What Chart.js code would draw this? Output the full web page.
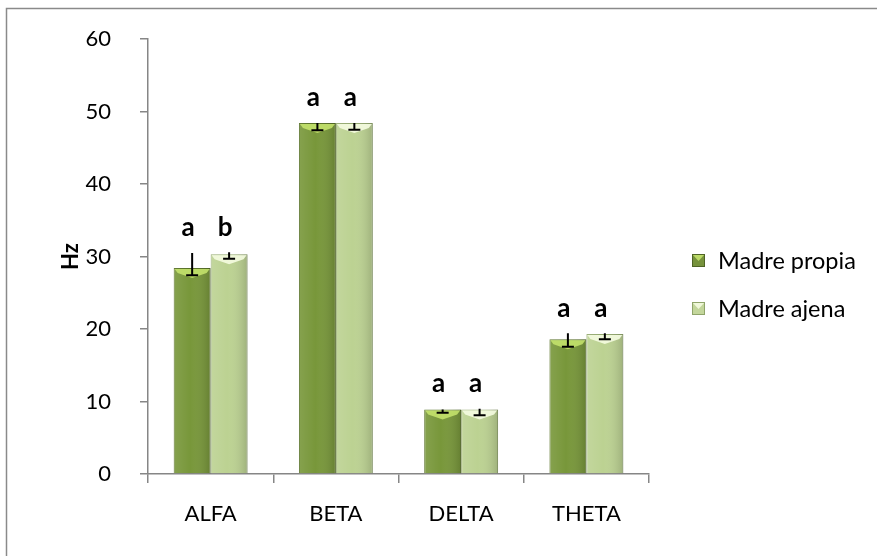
<!DOCTYPE html>
<html><head><meta charset="utf-8">
<script src="https://cdn.jsdelivr.net/npm/chart.js@4.4.1/dist/chart.umd.min.js"></script>
<style>html,body{margin:0;padding:0;background:#fff}#wrap{width:877px;height:556px;position:relative}</style>
</head><body><div id="wrap"><canvas id="c" width="877" height="556"></canvas></div>
<script>
// EEG band frequencies (Hz) by mother type
const categories = ['ALFA', 'BETA', 'DELTA', 'THETA'];
const propia = [28.4, 48.4, 8.9, 18.6];
const ajena = [30.3, 48.4, 8.9, 19.3];
// error bar extents above / below each mean
const propiaErrUp = [2.1, 0.0, 0.0, 0.8];
const propiaErrDown = [1.0, 1.0, 0.45, 1.05];
const ajenaErrUp = [0.3, 0.0, 0.1, 0.1];
const ajenaErrDown = [0.6, 0.9, 0.8, 0.7];
// significance letters
const propiaLetters = ['a', 'a', 'a', 'a'];
const ajenaLetters = ['b', 'a', 'a', 'a'];
const yTicks = [0, 10, 20, 30, 40, 50, 60];

const FONT = 'Lato';
Chart.defaults.font.family = FONT;
const AXIS = '#868686';

const series = [
  { up: propiaErrUp, down: propiaErrDown, letters: propiaLetters,
    light: 'rgba(200,230,110,0.85)', legendFill: '#76923c' },
  { up: ajenaErrUp, down: ajenaErrDown, letters: ajenaLetters,
    light: 'rgba(245,252,225,0.9)', legendFill: '#c3d69b' }
];

const decor = {
  id: 'decor',
  beforeDraw(chart) {
    const c = chart.ctx;
    c.save();
    c.fillStyle = '#fff';
    c.fillRect(0, 0, chart.width, chart.height);
    c.strokeStyle = '#8a8a8a';
    c.lineWidth = 1.5;
    c.strokeRect(6.5, 8.5, chart.width + 20, chart.height + 20);
    c.restore();
  },
  afterDatasetsDraw(chart) {
    const c = chart.ctx;
    const ys = chart.scales.y;
    c.save();
    // bar shading and top bevel
    chart.data.datasets.forEach((ds, di) => {
      const meta = chart.getDatasetMeta(di);
      meta.data.forEach((bar) => {
        const w = bar.width, l = bar.x - w / 2, r = bar.x + w / 2, t = bar.y, b = bar.base;
        const g = c.createLinearGradient(l, 0, r, 0);
        g.addColorStop(0, 'rgba(255,255,255,0.10)');
        g.addColorStop(0.45, 'rgba(255,255,255,0.0)');
        g.addColorStop(1, 'rgba(0,0,0,0.16)');
        c.fillStyle = g;
        c.fillRect(l, t, w, b - t);
        c.fillStyle = series[di].light;
        c.beginPath();
        c.moveTo(l + 1, t + 1);
        c.lineTo(r - 1, t + 1);
        c.lineTo(r - 4, t + 5);
        c.lineTo(bar.x, t + 10);
        c.lineTo(l + 4, t + 5);
        c.closePath();
        c.fill();
      });
    });
    // error bars: line from mean+up to mean-down, cap at lower end
    c.strokeStyle = '#000';
    c.lineWidth = 2;
    chart.data.datasets.forEach((ds, di) => {
      const meta = chart.getDatasetMeta(di);
      meta.data.forEach((bar, i) => {
        const v = ds.data[i];
        const yt = ys.getPixelForValue(v + series[di].up[i]);
        const yb = ys.getPixelForValue(v - series[di].down[i]);
        c.beginPath();
        c.moveTo(bar.x, yt);
        c.lineTo(bar.x, yb);
        c.moveTo(bar.x - 6, yb);
        c.lineTo(bar.x + 6, yb);
        c.stroke();
      });
    });
    // significance letters above each group
    c.fillStyle = '#000';
    c.font = 'bold 26px ' + FONT;
    c.textAlign = 'center';
    c.textBaseline = 'middle';
    categories.forEach((cat, i) => {
      let top = Infinity;
      chart.data.datasets.forEach((ds, di) => {
        top = Math.min(top, ys.getPixelForValue(ds.data[i] + series[di].up[i]));
      });
      chart.data.datasets.forEach((ds, di) => {
        const bar = chart.getDatasetMeta(di).data[i];
        c.fillText(series[di].letters[i], bar.x - 4, top - 25);
      });
    });
    c.restore();
  },
  afterDraw(chart) {
    // legend at the right
    const c = chart.ctx;
    c.save();
    c.font = '23.5px ' + FONT;
    c.textBaseline = 'middle';
    c.textAlign = 'left';
    chart.data.datasets.forEach((ds, di) => {
      const y = 260 + di * 48;
      const x = 692;
      c.fillStyle = series[di].legendFill;
      c.fillRect(x, y - 6, 13, 13);
      c.fillStyle = series[di].light;
      c.beginPath();
      c.moveTo(x, y - 6); c.lineTo(x + 13, y - 6); c.lineTo(x + 6.5, y + 1); c.closePath();
      c.fill();
      c.strokeStyle = di === 0 ? '#4f6426' : '#8fa46a';
      c.lineWidth = 1;
      c.strokeRect(x + 0.5, y - 5.5, 12, 12);
      c.fillStyle = '#000';
      c.fillText(ds.label, 718, y + 1);
    });
    c.restore();
  }
};

new Chart(document.getElementById('c'), {
  type: 'bar',
  data: {
    labels: categories,
    datasets: [
      { label: 'Madre propia', data: propia, backgroundColor: '#78973a', borderColor: '#566f24', borderWidth: 1 },
      { label: 'Madre ajena', data: ajena, backgroundColor: '#bcd292', borderColor: '#93a86f', borderWidth: 1 }
    ]
  },
  options: {
    responsive: false,
    animation: false,
    devicePixelRatio: 1,
    categoryPercentage: 0.59,
    barPercentage: 1.0,
    layout: { padding: { top: 39, right: 228, bottom: 0, left: 0 } },
    plugins: { legend: { display: false }, tooltip: { enabled: false } },
    scales: {
      x: {
        grid: { drawOnChartArea: false, color: AXIS, tickLength: 9, lineWidth: 1.5 },
        border: { color: AXIS, width: 1.5 },
        ticks: { color: '#000', font: { size: 22 }, padding: 18 },
        afterFit(s) { s.height = 82; }
      },
      y: {
        min: 0, max: 60,
        afterBuildTicks(s) { s.ticks = yTicks.map(v => ({ value: v })); },
        grid: { drawOnChartArea: false, color: AXIS, tickLength: 8, lineWidth: 1.5 },
        border: { color: AXIS, width: 1.5 },
        ticks: { color: '#000', font: { size: 22 }, padding: 29 },
        title: { display: true, text: 'Hz', color: '#000', font: { size: 22, weight: 'bold' }, padding: { top: 58, bottom: 0 } },
        afterFit(s) { s.width = 148; s.paddingTop = 0; s.paddingBottom = 0; }
      }
    }
  },
  plugins: [decor]
});
</script></body></html>
